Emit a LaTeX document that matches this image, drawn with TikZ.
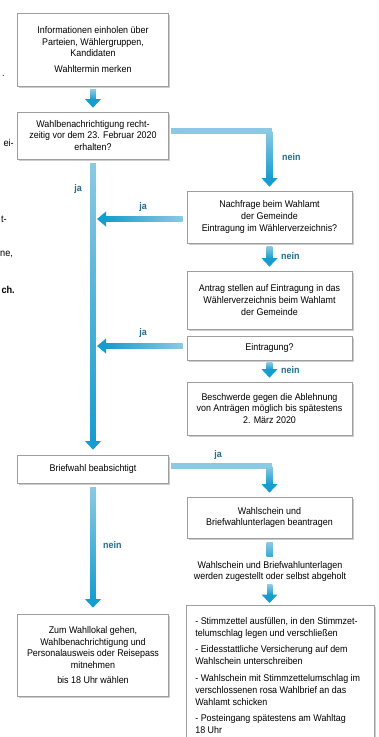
\documentclass[tikz,border=0pt]{standalone}
\usepackage{fontspec}
\setmainfont{Liberation Sans}[FakeStretch=0.92]
\usetikzlibrary{calc,shadows}
\definecolor{lb}{RGB}{140,201,226}
\definecolor{db}{RGB}{22,156,206}
\definecolor{lab}{RGB}{35,108,138}
\definecolor{bord}{RGB}{158,158,158}
\newlength\hind
% vertical connector: start coordinate, tip coordinate
\newcommand\vconn[2]{%
  \shade[top color=lb,bottom color=db] ($(#1)+(-2.8,0)$) rectangle ($(#2)+(2.8,-8)$);
  \fill[db] (#2) -- ($(#2)+(-8,-8.5)$) -- ($(#2)+(8,-8.5)$) -- cycle;}
% leftward connector: start coordinate (right), tip coordinate (left)
\newcommand\lconn[2]{%
  \shade[left color=db,right color=lb] ($(#2)+(8,-2.8)$) rectangle ($(#1)+(0,2.8)$);
  \fill[db] (#2) -- ($(#2)+(9,-7.5)$) -- ($(#2)+(9,7.5)$) -- cycle;}
\begin{document}
\begin{tikzpicture}[x=1pt,y=-1pt,
  box/.style={draw=bord,line width=0.7pt,fill=white,align=center,inner sep=0pt,
    drop shadow={shadow xshift=1.6pt,shadow yshift=-2pt,opacity=0.2,fill=black},
    font=\fontsize{9.7}{11.8}\selectfont},
  lbox/.style={box,minimum width=151},
  rbox/.style={box,minimum width=165},
  lbl/.style={font=\bfseries\fontsize{9.7}{11}\selectfont,text=lab,inner sep=0pt},
  frag/.style={font=\fontsize{10}{12}\selectfont,anchor=east,inner sep=0pt},
  plain/.style={font=\fontsize{9.7}{11}\selectfont,align=center,inner sep=0pt}]
\clip (0,0) rectangle (378,737);
\fill[white] (0,0) rectangle (378,737);

% fragments of the neighbouring page
\node[frag] (f1) at (5,76) {.};
\node[frag] (f2) at (14,143) {ei-};
\node[frag] (f3) at (7,219) {t-};
\node[frag,anchor=west] (f4) at (0,254) {ne,};
\node[frag,font=\bfseries\fontsize{10}{12}\selectfont] (f5) at (15,290) {ch.};

% boxes
\node[lbox,minimum height=73] (b1) at (93,49.5)
  {Informationen einholen über\\Parteien, Wählergruppen,\\Kandidaten\\[4pt]Wahltermin merken};
\node[lbox,minimum height=47] (b2) at (93,135.5)
  {Wahlbenachrichtigung recht-\\zeitig vor dem 23. Februar 2020\\erhalten?};
\node[rbox,minimum height=52] (b3) at (269.5,217)
  {Nachfrage beim Wahlamt\\der Gemeinde\\Eintragung im Wählerverzeichnis?};
\node[rbox,minimum height=58] (b4) at (269.5,300)
  {Antrag stellen auf Eintragung in das\\Wählerverzeichnis beim Wahlamt\\der Gemeinde};
\node[rbox,minimum height=24] (b5) at (269.5,348) {Eintragung?};
\node[rbox,minimum height=53] (b6) at (269.5,408.5)
  {Beschwerde gegen die Ablehnung\\von Anträgen möglich bis spätestens\\2. März 2020};
\node[lbox,minimum height=28] (b7) at (93,469) {Briefwahl beabsichtigt};
\node[rbox,minimum height=41] (b8) at (269.5,517.5)
  {Wahlschein und\\Briefwahlunterlagen beantragen};
\node[plain] (t8) at (270,571.5)
  {Wahlschein und Briefwahlunterlagen\\werden zugestellt oder selbst abgeholt};
\node[lbox,minimum height=82] (b10) at (93,655)
  {Zum Wahllokal gehen,\\Wahlbenachrichtigung und\\Personalausweis oder Reisepass\\mitnehmen\\[3pt]bis 18 Uhr wählen};
\node[box,anchor=north west,inner xsep=9pt,inner ysep=12pt,align=left] (b9) at (186,605)
  {\begin{minipage}[t][140pt][t]{170pt}\raggedright
   \settowidth\hind{- }\setlength\parindent{0pt}\setlength\parskip{5pt}%
   \hangindent=\hind\hangafter=1 - Stimmzettel ausfüllen, in den Stimmzet-\\telumschlag legen und verschließen\par
   \hangindent=\hind\hangafter=1 - Eidesstattliche Versicherung auf dem\\Wahlschein unterschreiben\par
   \hangindent=\hind\hangafter=1 - Wahlschein mit Stimmzettelumschlag im\\verschlossenen rosa Wahlbrief an das\\Wahlamt schicken\par
   \hangindent=\hind\hangafter=1 - Posteingang spätestens am Wahltag\\18 Uhr\par
   \end{minipage}};

% connector points
\coordinate (c1s) at ($(b1.south)+(0,3)$);
\coordinate (c1t) at ($(b2.north)+(0,-4)$);
\coordinate (c2s) at ($(b2.east)+(2,-4.5)$);
\coordinate (c2c) at (b3.north |- c2s);
\coordinate (c2t) at ($(b3.north)+(0,-4)$);
\coordinate (c3s) at ($(b2.south)+(0,4)$);
\coordinate (c3t) at ($(b7.north)+(0,-5)$);
\coordinate (c4s) at ($(b3.west)+(-4,2)$);
\coordinate (c4t) at ($(c3s |- c4s)+(4,0)$);
\coordinate (c5s) at ($(b3.south)+(0,3)$);
\coordinate (c5t) at ($(b4.north)+(0,-4)$);
\coordinate (c6s) at ($(b5.west)+(-4,-2)$);
\coordinate (c6t) at ($(c3s |- c6s)+(4,0)$);
\coordinate (c7s) at ($(b5.south)+(0,2)$);
\coordinate (c7t) at ($(b6.north)+(0,-4)$);
\coordinate (c8s) at ($(b7.east)+(2,-3)$);
\coordinate (c8c) at (b8.north |- c8s);
\coordinate (c8t) at ($(b8.north)+(0,-4)$);
\coordinate (c9s) at ($(b8.south)+(0,4)$);
\coordinate (c9e) at ($(t8.north)+(0,-5)$);
\coordinate (c10s) at ($(t8.south)+(0,3)$);
\coordinate (c10t) at ($(c9s |- b9.north)+(0,-2)$);
\coordinate (c11s) at ($(b7.south)+(0,4)$);
\coordinate (c11t) at ($(b10.north)+(0,-6)$);

% connectors
\vconn{c1s}{c1t}
\fill[lb] ($(c2s)+(0,-2.8)$) rectangle ($(c2c)+(2.8,2.8)$);
\vconn{c2c}{c2t}
\vconn{c3s}{c3t}
\lconn{c4s}{c4t}
\vconn{c5s}{c5t}
\lconn{c6s}{c6t}
\vconn{c7s}{c7t}
\fill[lb] ($(c8s)+(0,-2.8)$) rectangle ($(c8c)+(2.8,2.8)$);
\vconn{c8c}{c8t}
\shade[top color=lb,bottom color=db!70!lb] ($(c9s)+(-2.8,0)$) rectangle ($(c9e)+(2.8,0)$);
\vconn{c10s}{c10t}
\vconn{c11s}{c11t}

% labels
\node[lbl,anchor=west] (l1) at (282,157) {nein};
\node[lbl] (l2) at (78,189) {ja};
\node[lbl] (l3) at (143,207) {ja};
\node[lbl,anchor=west] (l4) at (281,256) {nein};
\node[lbl] (l5) at (143,333) {ja};
\node[lbl,anchor=west] (l6) at (281,370) {nein};
\node[lbl] (l7) at (218,455) {ja};
\node[lbl,anchor=west] (l8) at (103,545) {nein};
\end{tikzpicture}
\end{document}
